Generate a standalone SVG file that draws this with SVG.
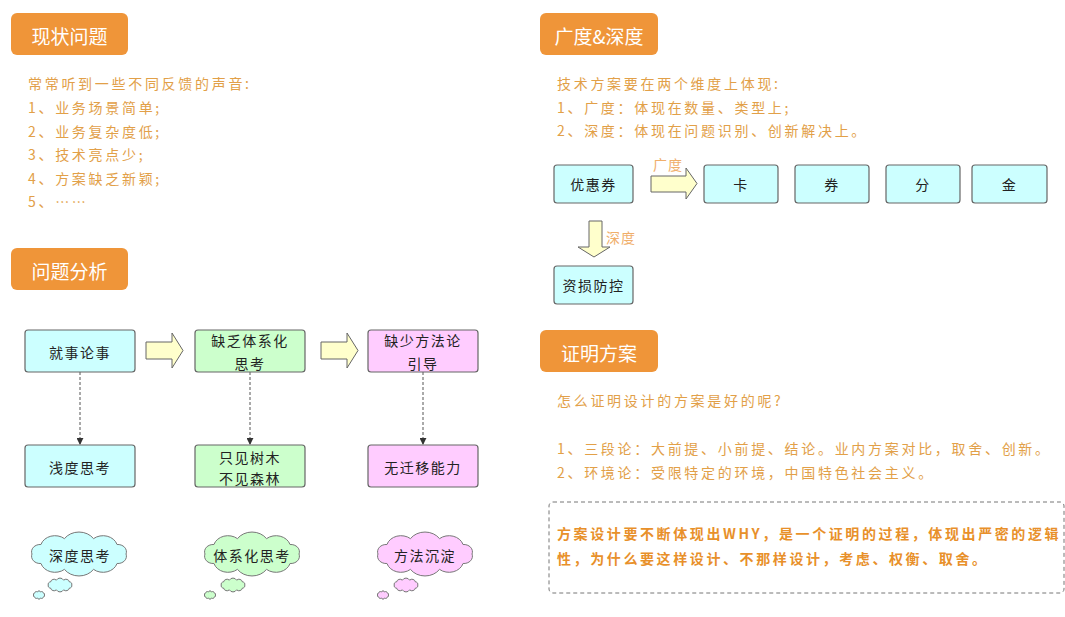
<svg xmlns="http://www.w3.org/2000/svg" width="1065" height="617" viewBox="0 0 1065 617">
<style>
text{font-family:"Noto Sans CJK SC","Noto Sans",sans-serif;dominant-baseline:central}
.badge rect{fill:#EF9539}
.badge text{fill:#fff;font-size:19px;text-anchor:middle}
.note{fill:#E2A048;font-size:14px;letter-spacing:2.7px}
.lbl{fill:#F0AE6A;font-size:14px;letter-spacing:1px}
.strong{fill:#E8902A;font-size:14px;font-weight:bold;letter-spacing:2.6px}
.box{stroke:#666;stroke-width:1.2}
.cy{fill:#CCFFFF}.gr{fill:#CCFFCC}.pk{fill:#FFCCFF}
.bt{fill:#222;font-size:14px;letter-spacing:1.5px;text-anchor:middle;stroke:none}
.blk{fill:#FFFFCC;stroke:#666;stroke-width:1}
.dash{stroke:#555;stroke-width:1;stroke-dasharray:3 2;fill:none}
.cl use{stroke:#777;stroke-width:1}
</style>
<defs>
<marker id="ah" viewBox="0 0 8 8" refX="7" refY="4" markerWidth="7" markerHeight="7" orient="auto" markerUnits="userSpaceOnUse">
<path d="M0 0 L8 4 L0 8 Z" fill="#333"/>
</marker>
<path id="cloud" d="M42 0 A7.7 7.7 0 0 1 33.98 9.99 A13.1 13.1 0 0 1 12.98 16.17 A15.6 15.6 0 0 1 -12.98 16.17 A13.1 13.1 0 0 1 -33.98 9.99 A7.7 7.7 0 0 1 -42 0 A7.7 7.7 0 0 1 -33.98 -9.99 A13.1 13.1 0 0 1 -12.98 -16.17 A15.6 15.6 0 0 1 12.98 -16.17 A13.1 13.1 0 0 1 33.98 -9.99 A7.7 7.7 0 0 1 42 0 Z" vector-effect="non-scaling-stroke"/>
</defs>
<rect width="1065" height="617" fill="#fff"/>

<g id="badge-xianzhuang" class="badge"><rect x="11" y="13" width="117" height="42" rx="6"/><text x="69.5" y="35">现状问题</text></g>
<g id="badge-fenxi" class="badge"><rect x="11" y="248" width="117" height="42" rx="6"/><text x="69.5" y="270">问题分析</text></g>
<g id="badge-guangdu" class="badge"><rect x="540" y="13" width="118" height="42" rx="6"/><text x="599" y="35">广度&amp;深度</text></g>
<g id="badge-zhengming" class="badge"><rect x="540" y="330" width="118" height="42" rx="6"/><text x="599" y="352">证明方案</text></g>

<g id="list-xianzhuang" class="note">
<text x="28" y="83">常常听到一些不同反馈的声音:</text>
<text x="28" y="107">1、业务场景简单;</text>
<text x="28" y="131">2、业务复杂度低;</text>
<text x="28" y="154">3、技术亮点少;</text>
<text x="28" y="178">4、方案缺乏新颖;</text>
<text x="28" y="201">5、……</text>
</g>

<g id="list-guangdu" class="note">
<text x="557" y="83">技术方案要在两个维度上体现:</text>
<text x="557" y="107">1、广度：体现在数量、类型上;</text>
<text x="557" y="130">2、深度：体现在问题识别、创新解决上。</text>
</g>

<g id="list-zhengming" class="note">
<text x="557" y="400">怎么证明设计的方案是好的呢?</text>
<text x="557" y="448">1、三段论：大前提、小前提、结论。业内方案对比，取舍、创新。</text>
<text x="557" y="472">2、环境论：受限特定的环境，中国特色社会主义。</text>
</g>

<g id="note-why">
<rect x="549" y="502" width="515" height="91" rx="4" fill="none" stroke="#777" stroke-width="1" stroke-dasharray="4 3"/>
<text class="strong" x="557" y="533">方案设计要不断体现出WHY，是一个证明的过程，体现出严密的逻辑</text>
<text class="strong" x="557" y="558">性，为什么要这样设计、不那样设计，考虑、权衡、取舍。</text>
</g>

<g id="connectors">
<path class="blk" d="M146 342 H172 V333 L183 350.5 L172 368 V359 H146 Z"/>
<path class="blk" d="M321 342 H347 V333 L358 350.5 L347 368 V359 H321 Z"/>
<path class="blk" d="M651 176 H686 V168 L697 183.5 L686 199 V192 H651 Z"/>
<path class="blk" d="M589 221 H602 V247 H610 L594 257 L578 247 H589 Z"/>
<line class="dash" x1="80" y1="372" x2="80" y2="444" marker-end="url(#ah)"/>
<line class="dash" x1="250" y1="372" x2="250" y2="444" marker-end="url(#ah)"/>
<line class="dash" x1="423" y1="372" x2="423" y2="444" marker-end="url(#ah)"/>
<text class="lbl" x="653" y="164">广度</text>
<text class="lbl" x="606" y="237">深度</text>
</g>

<g id="n-jiushi"><rect class="box cy" x="25" y="330" width="110" height="42" rx="3"/><text class="bt" x="80" y="352">就事论事</text></g>
<g id="n-quefa"><rect class="box gr" x="195" y="330" width="110" height="42" rx="3"/><text class="bt" x="250" y="340">缺乏体系化</text><text class="bt" x="250" y="363">思考</text></g>
<g id="n-queshao"><rect class="box pk" x="368" y="330" width="110" height="42" rx="3"/><text class="bt" x="423" y="340">缺少方法论</text><text class="bt" x="423" y="363">引导</text></g>
<g id="n-qiandu"><rect class="box cy" x="25" y="445" width="110" height="42" rx="3"/><text class="bt" x="80" y="467">浅度思考</text></g>
<g id="n-zhijian"><rect class="box gr" x="195" y="445" width="110" height="42" rx="3"/><text class="bt" x="250" y="457">只见树木</text><text class="bt" x="250" y="478">不见森林</text></g>
<g id="n-wuqian"><rect class="box pk" x="368" y="445" width="110" height="42" rx="3"/><text class="bt" x="423" y="467">无迁移能力</text></g>

<g id="cloud-shendu" class="cl" fill="#CCFFFF">
<use href="#cloud" transform="translate(79 554) scale(1.12 0.95)"/>
<use href="#cloud" transform="translate(60 585) scale(0.28 0.3)"/>
<use href="#cloud" transform="translate(39 595) scale(0.13 0.18)"/>
<text class="bt" x="80" y="555">深度思考</text>
</g>
<g id="cloud-tixi" class="cl" fill="#CCFFCC">
<use href="#cloud" transform="translate(252 554) scale(1.12 0.95)"/>
<use href="#cloud" transform="translate(233 585) scale(0.28 0.3)"/>
<use href="#cloud" transform="translate(210 595) scale(0.13 0.18)"/>
<text class="bt" x="252" y="555">体系化思考</text>
</g>
<g id="cloud-fangfa" class="cl" fill="#FFCCFF">
<use href="#cloud" transform="translate(425 554) scale(1.12 0.95)"/>
<use href="#cloud" transform="translate(406 585) scale(0.28 0.3)"/>
<use href="#cloud" transform="translate(383 595) scale(0.13 0.18)"/>
<text class="bt" x="425" y="555">方法沉淀</text>
</g>

<g id="n-youhui"><rect class="box cy" x="554" y="165" width="79" height="38" rx="3"/><text class="bt" x="593.5" y="184">优惠券</text></g>
<g id="n-ka"><rect class="box cy" x="704" y="165" width="74" height="38" rx="3"/><text class="bt" x="741" y="184">卡</text></g>
<g id="n-quan"><rect class="box cy" x="795" y="165" width="74" height="38" rx="3"/><text class="bt" x="832" y="184">券</text></g>
<g id="n-fen"><rect class="box cy" x="886" y="165" width="74" height="38" rx="3"/><text class="bt" x="923" y="184">分</text></g>
<g id="n-jin"><rect class="box cy" x="972" y="165" width="75" height="38" rx="3"/><text class="bt" x="1009.5" y="184">金</text></g>
<g id="n-zisun"><rect class="box cy" x="554" y="266" width="79" height="38" rx="3"/><text class="bt" x="593.5" y="285">资损防控</text></g>
</svg>
